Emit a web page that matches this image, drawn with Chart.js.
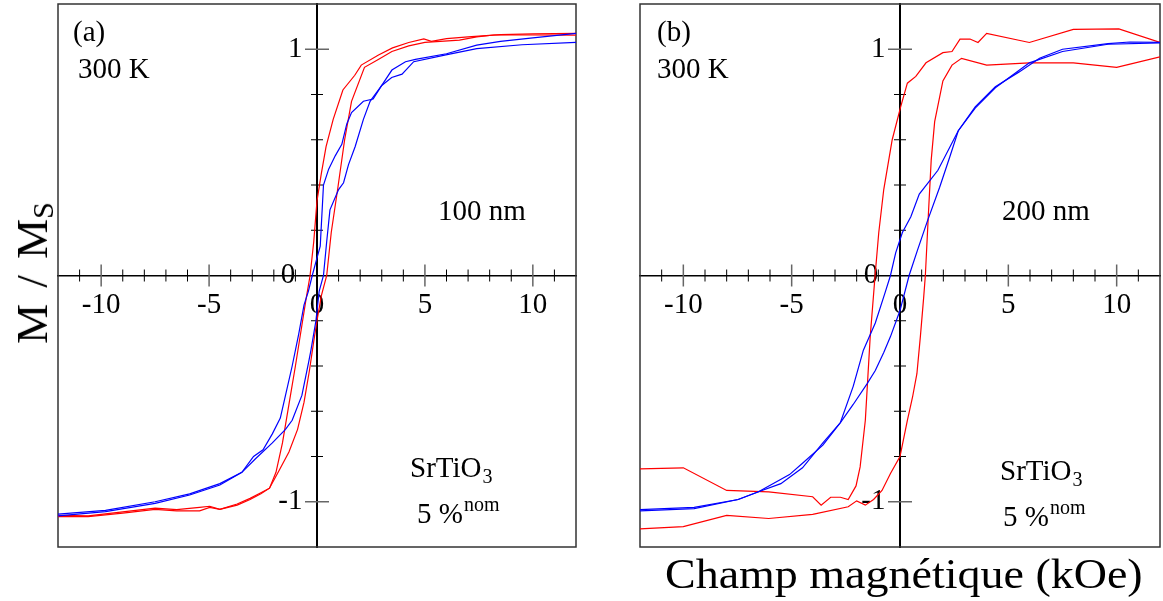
<!DOCTYPE html>
<html>
<head>
<meta charset="utf-8">
<script src="https://cdn.jsdelivr.net/npm/chart.js@4.4.0/dist/chart.umd.min.js"></script>
<style>
  body { margin: 0; background: #fff; }
  #wrap { position: relative; width: 1163px; height: 601px; overflow: hidden; font-family: "Liberation Serif", serif; color: #000; }
  canvas { position: absolute; top: 0; }
  #cA { left: 0; }
  #cB { left: 590px; }
  .ytitle { position: absolute; left: 33px; top: 273px; transform: translate(-50%, -50%) rotate(-90deg); font-size: 45px; white-space: nowrap; word-spacing: 5px; }
  .ytitle sub { font-size: 30px; vertical-align: -6px; }
  .xtitle { position: absolute; left: 665px; top: 553px; font-size: 42px; line-height: 42px; white-space: nowrap; transform: scaleX(1.095); transform-origin: left top; }
</style>
</head>
<body>
<div id="wrap">
  <canvas id="cA" width="590" height="601"></canvas>
  <canvas id="cB" width="573" height="601"></canvas>
  <div class="ytitle">M / M<sub>S</sub></div>
  <div class="xtitle">Champ magnétique (kOe)</div>
</div>
<script>
// tick values
const xTickLabels = [-10, -5, 0, 5, 10];
const yTickLabels = [-1, 0, 1];
const xMinorTicks = [-11, -9, -8, -7, -6, -4, -3, -2, -1, 1, 2, 3, 4, 6, 7, 8, 9, 11];
const xMajorTicks = [-10, -5, 5, 10];
const yMinorTicks = [-0.8, -0.6, -0.4, -0.2, 0.2, 0.4, 0.6, 0.8];
const yMajorTicks = [-1, 1];

// (a) 100 nm, red loop
const aRedDownH = [12, 10, 8.5, 7, 6, 5.3, 4.95, 4.25, 3.5, 2.85, 2.05, 1.75, 1.2, 0.75, 0.42, 0.2, 0, -0.15, -0.32, -0.5, -0.7, -1.0, -1.3, -1.6, -1.9, -2.2, -2.6, -3.1, -3.7, -4.5, -4.97, -5.44, -6.5, -7.5, -9.0, -10.6, -12];
const aRedDownM = [1.07, 1.068, 1.065, 1.055, 1.047, 1.035, 1.046, 1.03, 1.006, 0.975, 0.93, 0.885, 0.82, 0.69, 0.57, 0.45, 0.33, 0.15, 0, -0.1, -0.22, -0.4, -0.57, -0.74, -0.87, -0.94, -0.965, -0.99, -1.015, -1.034, -1.025, -1.04, -1.04, -1.034, -1.05, -1.066, -1.066];
const aRedUpH = [-12, -10.6, -9.0, -7.5, -6.5, -5.44, -4.97, -4.5, -3.7, -3.1, -2.6, -2.2, -1.8, -1.3, -0.9, -0.6, -0.35, -0.15, 0, 0.2, 0.45, 0.66, 0.97, 1.28, 1.6, 2.2, 2.84, 3.47, 4.25, 5.0, 6.6, 7.4, 8.2, 10, 12];
const aRedUpM = [-1.06, -1.062, -1.045, -1.028, -1.035, -1.025, -1.02, -1.034, -1.01, -0.985, -0.96, -0.94, -0.87, -0.78, -0.68, -0.56, -0.42, -0.29, -0.2, -0.09, 0, 0.19, 0.39, 0.6, 0.77, 0.92, 0.955, 0.99, 1.015, 1.03, 1.04, 1.055, 1.063, 1.063, 1.062];

// (a) 100 nm, blue loop
const aBlueDownH = [12, 10, 8.5, 7.4, 6, 4.56, 4.1, 3.47, 3.0, 2.6, 2.15, 1.6, 1.38, 1.15, 0.85, 0.54, 0.3, 0.15, -0.05, -0.22, -0.4, -0.6, -0.85, -1.15, -1.46, -1.7, -2.07, -2.5, -2.94, -3.48, -4.5, -5.9, -7.5, -9.8, -12];
const aBlueDownM = [1.07, 1.05, 1.035, 1.018, 0.98, 0.955, 0.945, 0.908, 0.84, 0.78, 0.77, 0.72, 0.67, 0.58, 0.53, 0.47, 0.4, 0.13, 0.06, 0, -0.07, -0.13, -0.26, -0.4, -0.53, -0.63, -0.7, -0.77, -0.8, -0.87, -0.926, -0.97, -1.007, -1.044, -1.062];
const aBlueUpH = [-12, -9.8, -7.5, -5.9, -4.5, -3.48, -2.85, -2.07, -1.46, -1.15, -0.7, -0.38, -0.28, -0.05, 0.1, 0.3, 0.45, 0.6, 1.0, 1.23, 1.46, 1.77, 2.15, 2.46, 3.0, 3.46, 3.94, 4.48, 5.97, 7.4, 9.5, 12];
const aBlueUpM = [-1.055, -1.038, -1.0, -0.965, -0.92, -0.87, -0.81, -0.74, -0.68, -0.64, -0.53, -0.38, -0.33, -0.2, -0.07, 0, 0.15, 0.29, 0.38, 0.41, 0.49, 0.57, 0.69, 0.77, 0.84, 0.875, 0.89, 0.945, 0.975, 1.003, 1.02, 1.03];

// (b) 200 nm, red loop
const bRedDownH = [12, 10.1, 8.0, 5.97, 4.0, 3.6, 3.23, 2.77, 2.4, 1.98, 1.2, 0.73, 0.34, 0.03, -0.36, -0.75, -0.98, -1.15, -1.375, -1.6, -1.84, -2.03, -2.39, -2.75, -3.2, -3.64, -4.03, -6.06, -8.0, -10, -12];
const bRedDownM = [1.03, 1.09, 1.088, 1.03, 1.07, 1.03, 1.045, 1.045, 0.99, 0.985, 0.94, 0.88, 0.85, 0.745, 0.6, 0.38, 0.19, 0, -0.27, -0.64, -0.846, -0.93, -0.99, -0.98, -0.98, -1.015, -0.978, -0.956, -0.95, -0.85, -0.855];
const bRedUpH = [-12, -10, -8, -6.06, -4.03, -2.39, -2.0, -1.6, -1.22, -0.83, -0.44, 0, 0.34, 0.58, 0.78, 0.94, 1.09, 1.17, 1.31, 1.44, 1.6, 1.98, 2.4, 2.84, 4.0, 5.97, 8.0, 10, 12];
const bRedUpM = [-1.12, -1.11, -1.06, -1.074, -1.056, -1.022, -0.996, -1.015, -0.99, -0.95, -0.875, -0.8, -0.64, -0.537, -0.434, -0.27, -0.1, 0, 0.27, 0.51, 0.68, 0.86, 0.93, 0.96, 0.93, 0.94, 0.94, 0.92, 0.966];

// (b) 200 nm, blue loop
const bBlueDownH = [12, 10.6, 9.6, 7.5, 6.44, 5.5, 4.4, 3.47, 2.69, 1.75, 0.89, 0.5, 0.11, -0.2, -0.44, -0.67, -1.14, -1.69, -2.16, -2.75, -3.56, -4.5, -5.5, -6.53, -7.47, -9.5, -12];
const bBlueDownM = [1.03, 1.032, 1.025, 1.0, 0.96, 0.9, 0.834, 0.745, 0.64, 0.465, 0.36, 0.26, 0.19, 0.1, 0, -0.07, -0.21, -0.33, -0.49, -0.65, -0.74, -0.85, -0.92, -0.956, -0.99, -1.03, -1.04];
const bBlueUpH = [-12, -9.5, -7.47, -6.53, -5.1, -4.5, -3.56, -2.75, -2.16, -1.53, -1.14, -0.75, -0.44, 0, 0.42, 0.8, 1.28, 1.83, 2.3, 2.69, 3.47, 4.4, 5.97, 7.5, 9.6, 12];
const bBlueUpM = [-1.035, -1.025, -0.99, -0.956, -0.88, -0.83, -0.75, -0.65, -0.57, -0.48, -0.42, -0.34, -0.27, -0.155, 0, 0.11, 0.245, 0.39, 0.525, 0.64, 0.74, 0.83, 0.94, 0.99, 1.022, 1.028];

const RED = '#ff0000', BLUE = '#0000ff';
const FONT = 'Liberation Serif';

function pts(hs, ms) { return hs.map((h, i) => ({ x: h, y: ms[i] })); }
function branch(hs, ms, color) {
  return { data: pts(hs, ms), borderColor: color, borderWidth: 1.2, showLine: true, pointRadius: 0, tension: 0, fill: false };
}

function seg(ctx, x1, y1, x2, y2) { ctx.beginPath(); ctx.moveTo(x1, y1); ctx.lineTo(x2, y2); ctx.stroke(); }

// text with optional subscript / superscript
function drawNote(ctx, n, left, top) {
  ctx.fillStyle = '#000';
  ctx.textBaseline = 'alphabetic';
  ctx.textAlign = 'left';
  ctx.font = '29px "' + FONT + '"';
  const x = left + n.dx, y = top + n.dy;
  ctx.fillText(n.text, x, y);
  const w = ctx.measureText(n.text).width;
  if (n.sub) { ctx.font = '20px "' + FONT + '"'; ctx.fillText(n.sub, x + w + 1, y + 6); }
  if (n.sup) { ctx.font = '20px "' + FONT + '"'; ctx.fillText(n.sup, x + w + 1, y - 12); }
}

const decor = {
  id: 'decor',
  beforeDatasetsDraw(chart) {
    const { ctx, chartArea: a, scales: { x, y } } = chart;
    const x0 = x.getPixelForValue(0), y0 = y.getPixelForValue(0);
    ctx.save();
    ctx.strokeStyle = '#333';
    ctx.lineWidth = 1.5;
    ctx.strokeRect(a.left, a.top, a.right - a.left, a.bottom - a.top);
    ctx.strokeStyle = '#000';
    ctx.lineWidth = 1;
    xMinorTicks.forEach(v => { const p = x.getPixelForValue(v); seg(ctx, p, y0 - 6, p, y0 + 6); });
    yMinorTicks.forEach(v => { const p = y.getPixelForValue(v); seg(ctx, x0 - 6, p, x0 + 6, p); });
    ctx.strokeStyle = '#666';
    ctx.lineWidth = 1.5;
    xMajorTicks.forEach(v => { const p = x.getPixelForValue(v); seg(ctx, p, y0 - 11, p, y0 + 11); });
    yMajorTicks.forEach(v => { const p = y.getPixelForValue(v); seg(ctx, x0 - 12, p, x0 + 12, p); });
    ctx.restore();
  },
  afterDraw(chart, args, opts) {
    const { ctx, chartArea: a } = chart;
    ctx.save();
    (opts.notes || []).forEach(n => drawNote(ctx, n, a.left, a.top));
    ctx.restore();
  }
};

function makeChart(id, datasets, pad, notes) {
  return new Chart(document.getElementById(id), {
    type: 'scatter',
    data: { datasets },
    plugins: [decor],
    options: {
      responsive: false,
      animation: false,
      layout: { padding: pad },
      plugins: { legend: { display: false }, tooltip: { enabled: false }, decor: { notes } },
      scales: {
        x: {
          type: 'linear', min: -12, max: 12, position: { y: 0 },
          afterFit: s => { s.paddingLeft = 0; s.paddingRight = 0; },
          afterBuildTicks: s => { s.ticks = xTickLabels.map(v => ({ value: v })); },
          ticks: { autoSkip: false, maxRotation: 0, padding: 12, color: '#000', font: { family: FONT, size: 29 } },
          grid: { display: false, drawTicks: false },
          border: { display: true, color: '#000', width: 1.5 }
        },
        y: {
          type: 'linear', min: -1.2, max: 1.2, position: { x: 0 },
          afterFit: s => { s.paddingTop = 0; s.paddingBottom = 0; },
          afterBuildTicks: s => { s.ticks = yTickLabels.map(v => ({ value: v })); },
          // labels sit right-aligned on the axis, trailing spaces push them left
          ticks: { autoSkip: false, color: '#000', font: { family: FONT, size: 29 },
            callback: v => (v === 0 ? v + '   ' : v + '  ') },
          grid: { display: false, drawTicks: false },
          border: { display: true, color: '#000', width: 2 }
        }
      }
    }
  });
}

makeChart('cA', [
  branch(aBlueDownH, aBlueDownM, BLUE),
  branch(aBlueUpH, aBlueUpM, BLUE),
  branch(aRedDownH, aRedDownM, RED),
  branch(aRedUpH, aRedUpM, RED)
], { left: 58, right: 14, top: 4, bottom: 54 }, [
  { text: '(a)', dx: 15, dy: 37 },
  { text: '300 K', dx: 20, dy: 74 },
  { text: '100 nm', dx: 380, dy: 216 },
  { text: 'SrTiO', sub: '3', dx: 352, dy: 473 },
  { text: '5 %', sup: 'nom', dx: 359, dy: 519 }
]);

makeChart('cB', [
  branch(bBlueDownH, bBlueDownM, BLUE),
  branch(bBlueUpH, bBlueUpM, BLUE),
  branch(bRedDownH, bRedDownM, RED),
  branch(bRedUpH, bRedUpM, RED)
], { left: 50, right: 3, top: 4, bottom: 54 }, [
  { text: '(b)', dx: 17, dy: 37 },
  { text: '300 K', dx: 17, dy: 74 },
  { text: '200 nm', dx: 362, dy: 216 },
  { text: 'SrTiO', sub: '3', dx: 360, dy: 476 },
  { text: '5 %', sup: 'nom', dx: 363, dy: 522 }
]);
</script>
</body>
</html>
